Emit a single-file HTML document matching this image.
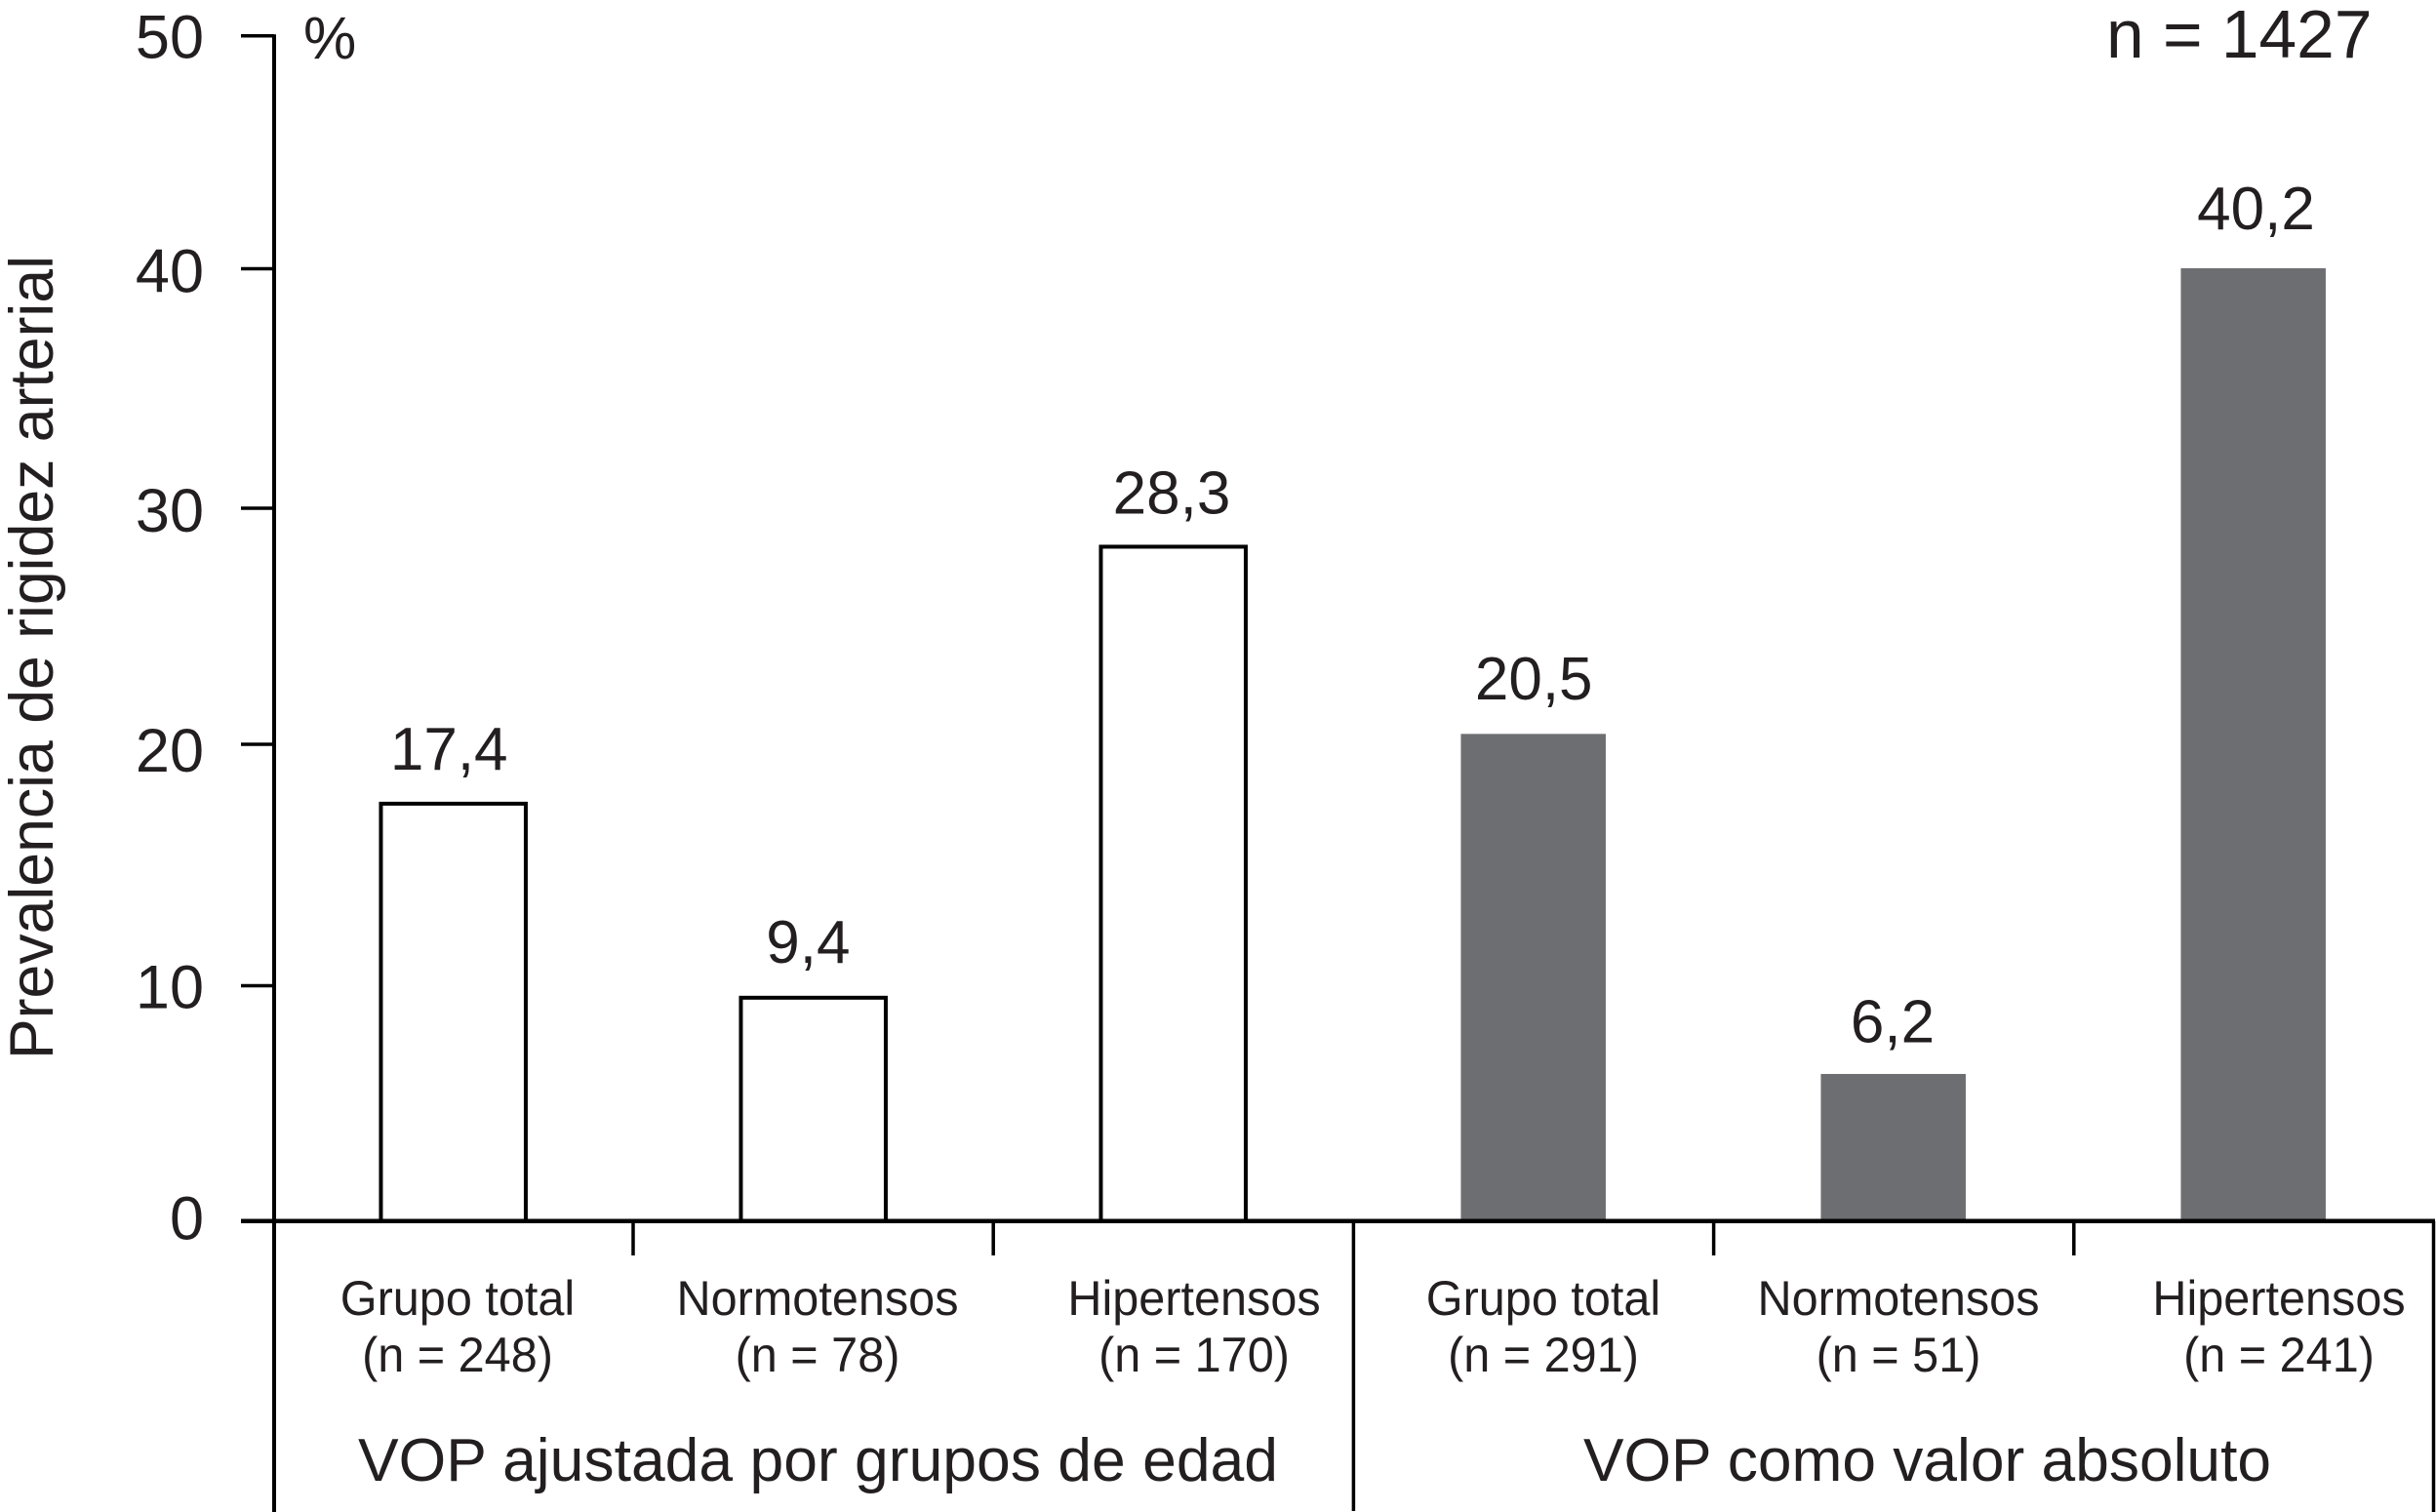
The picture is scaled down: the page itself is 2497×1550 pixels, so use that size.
<!DOCTYPE html>
<html lang="es">
<head>
<meta charset="utf-8">
<title>Prevalencia de rigidez arterial</title>
<style>
  html, body { margin: 0; padding: 0; background: #fff; }
  svg { display: block; }
  text { font-family: "Liberation Sans", Arial, sans-serif; fill: #231f20; }
</style>
</head>
<body>
<svg id="chart" xmlns="http://www.w3.org/2000/svg" width="2497" height="1550" viewBox="0 0 2497 1550">
  <rect x="0" y="0" width="2497" height="1550" fill="#ffffff"/>
  <g id="bars"></g>
  <g id="axes"></g>
  <g id="labels"></g>
  <text transform="translate(54,1086) rotate(-90)" font-size="63" textLength="824" lengthAdjust="spacingAndGlyphs">Prevalencia de rigidez arterial</text>
  <text x="311" y="60" font-size="61">%</text>
  <text x="2159" y="59" font-size="69.5">n = 1427</text>
  <text x="367" y="1518" font-size="62" textLength="943" lengthAdjust="spacingAndGlyphs">VOP ajustada por grupos de edad</text>
  <text x="1623" y="1518" font-size="62" textLength="705" lengthAdjust="spacingAndGlyphs">VOP como valor absoluto</text>
</svg>
<script>
// Chart data
const categories = ["Grupo total", "Normotensos", "Hipertensos", "Grupo total", "Normotensos", "Hipertensos"];
const sampleSizes = ["(n = 248)", "(n = 78)", "(n = 170)", "(n = 291)", "(n = 51)", "(n = 241)"];
const barValues = [17.54, 9.49, 28.37, 20.44, 6.25, 40.02];
const printedValues = ["17,4", "9,4", "28,3", "20,5", "6,2", "40,2"];
const seriesKinds = ["adjusted", "adjusted", "adjusted", "absolute", "absolute", "absolute"];
const tickValues = [0, 10, 20, 30, 40, 50];
const tickLabels = ["0", "10", "20", "30", "40", "50"];

const SVG_NS = "http://www.w3.org/2000/svg";

function yScale(v) {
  // The printed axis has slightly uneven tick spacing, so map through its tick marks.
  const domain = [0, 10, 20, 30, 40, 50];
  const range = [1251.7, 1010.5, 763, 521, 275.5, 36.7];
  let i = 0;
  while (i < domain.length - 2 && v > domain[i + 1]) i++;
  const t = (v - domain[i]) / (domain[i + 1] - domain[i]);
  return range[i] + t * (range[i + 1] - range[i]);
}

function xScale(i) {
  return 464.7 + 369 * i;
}

function bandEdge(i) {
  // Right-hand boundary of category i on the x axis
  return 649 + 369.2 * i;
}

function make(tag, attrs, parent, content) {
  const el = document.createElementNS(SVG_NS, tag);
  for (const k in attrs) el.setAttribute(k, attrs[k]);
  if (content !== undefined) el.textContent = content;
  parent.appendChild(el);
  return el;
}

const barsG = document.getElementById("bars");
const axesG = document.getElementById("axes");
const labelsG = document.getElementById("labels");

const baseY = yScale(0);
const barWidth = 148.5;

// Small hand-set label nudges to follow the original typesetting
const valueLabelDx = [-4.5, -5.3, -1.7, 0.5, -0.7, 2.8];
const valueLabelGap = [34.7, 36, 33.8, 35.6, 32.6, 40];
const categoryLabelDx = [4.3, 4.3, 21.3, 10.3, 5.3, 26.3];
const tickLabelDy = [19, 23, 28, 24, 24, 23];

barValues.forEach(function (v, i) {
  const cx = xScale(i);
  const top = yScale(v);
  let bar;
  if (seriesKinds[i] === "adjusted") {
    bar = make("rect", { x: cx - barWidth / 2, y: top, width: barWidth, height: baseY - top, fill: "#ffffff", stroke: "#000000", "stroke-width": 4 }, barsG);
  } else {
    bar = make("rect", { x: cx - barWidth / 2, y: top, width: barWidth, height: baseY - top, fill: "#6d6e71" }, barsG);
  }
  
  

  const valueLabel = make("text", { x: cx + valueLabelDx[i], y: top - valueLabelGap[i], "font-size": 62, "text-anchor": "middle" }, labelsG, printedValues[i]);
  
  

  const lx = cx + categoryLabelDx[i];
  const catLabel = make("text", { transform: "translate(" + lx + ",1348) scale(0.972,1)", "font-size": 50, "text-anchor": "middle" }, labelsG, categories[i]);
  
  

  const nLabel = make("text", { transform: "translate(" + lx + ",1406) scale(0.972,1)", "font-size": 50, "text-anchor": "middle" }, labelsG, sampleSizes[i]);
  
  
});

// Y axis
const yAxis = make("line", { x1: 281, x2: 281, y1: yScale(50) - 1.5, y2: 1550, stroke: "#000", "stroke-width": 4 }, axesG);



tickValues.forEach(function (t, i) {
  const y = yScale(t);
  const tick = make("line", { x1: 247, x2: 281, y1: y, y2: y, stroke: "#000", "stroke-width": 3.5 }, axesG);
  
  

  const label = make("text", { x: 209, y: y + tickLabelDy[i], "font-size": 63, "text-anchor": "end" }, labelsG, tickLabels[i]);
  
  
});

// X axis
const xAxis = make("line", { x1: 247, x2: 2496, y1: baseY, y2: baseY, stroke: "#000", "stroke-width": 4.5 }, axesG);



[0, 1, 3, 4].forEach(function (i) {
  const x = bandEdge(i);
  const tick = make("line", { x1: x, x2: x, y1: baseY, y2: 1287, stroke: "#000", "stroke-width": 3.5 }, axesG);
  
  
});

const groupDivider = make("line", { x1: bandEdge(2), x2: bandEdge(2), y1: baseY, y2: 1549, stroke: "#000", "stroke-width": 3.5 }, axesG);



const rightEdge = make("line", { x1: 2494.5, x2: 2494.5, y1: baseY, y2: 1550, stroke: "#000", "stroke-width": 3.5 }, axesG);


</script>
</body>
</html>
